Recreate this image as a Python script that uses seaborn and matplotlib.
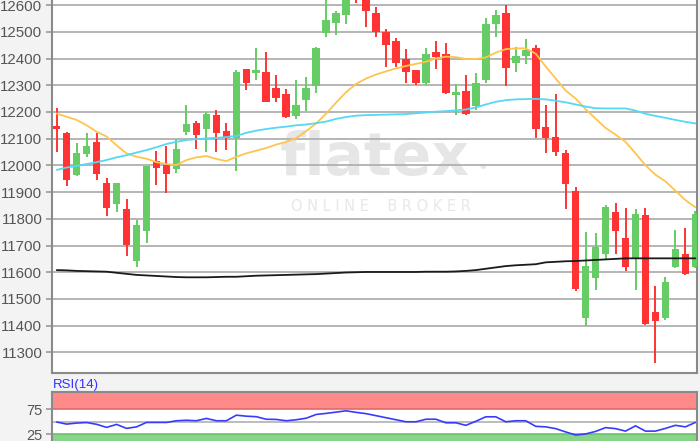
import numpy as np
import pandas as pd
import seaborn as sns
import matplotlib.pyplot as plt

# daily candles
opens = [12148, 12120, 11964, 12042, 12086, 11935, 11855, 11838, 11642, 11753,
         12016, 12001, 11986, 12126, 12159, 12136, 12188, 12128, 12103, 12360,
         12347, 12348, 12288, 12269, 12185, 12244, 12298, 12494, 12534, 12563,
         12660, 12640, 12569, 12498, 12465, 12400, 12357, 12309, 12425, 12417,
         12263, 12279, 12222, 12319, 12529, 12571, 12382, 12409, 12440, 12145,
         12107, 12047, 11905, 11427, 11577, 11670, 11824, 11727, 11652, 11814,
         11450, 11427, 11621, 11670, 11621]
highs = [12213, 12126, 12082, 12123, 12123, 11954, 11935, 11873, 11795, 11997,
         12053, 12073, 12097, 12226, 12166, 12198, 12209, 12157, 12357, 12362,
         12438, 12425, 12338, 12284, 12319, 12332, 12444, 12640, 12578, 12650,
         12680, 12660, 12594, 12509, 12475, 12434, 12357, 12438, 12465, 12457,
         12304, 12338, 12347, 12550, 12581, 12600, 12444, 12473, 12450, 12226,
         12269, 12057, 11920, 11752, 11745, 11851, 11858, 11839, 11836, 11839,
         11548, 11581, 11758, 11764, 11830]
lows = [12051, 11922, 11960, 12030, 11945, 11810, 11826, 11660, 11621, 11708,
        11926, 11897, 11970, 12113, 12063, 12051, 12051, 12057, 11980, 12282,
        12319, 12238, 12238, 12176, 12172, 12204, 12272, 12481, 12488, 12529,
        12608, 12519, 12481, 12369, 12369, 12307, 12300, 12300, 12359, 12267,
        12188, 12188, 12207, 12307, 12479, 12297, 12350, 12379, 12101, 12045,
        12035, 11835, 11529, 11398, 11533, 11645, 11670, 11606, 11533, 11402,
        11261, 11421, 11617, 11588, 11614]
closes = [12136, 11945, 12047, 12072, 11966, 11839, 11935, 11702, 11775, 11997,
          11991, 11967, 12061, 12153, 12113, 12192, 12122, 12103, 12348, 12307,
          12357, 12238, 12253, 12182, 12226, 12288, 12440, 12546, 12571, 12625,
          12625, 12577, 12498, 12450, 12384, 12350, 12310, 12417, 12407, 12272,
          12273, 12194, 12307, 12528, 12563, 12363, 12409, 12432, 12138, 12101,
          12049, 11929, 11537, 11624, 11693, 11843, 11754, 11621, 11818, 11408,
          11418, 11564, 11687, 11593, 11818]

# moving averages
ma_short = [12194, 12182, 12170, 12150, 12126, 12108, 12075, 12045, 12032, 12025,
            12012, 12005, 12001, 12020, 12030, 12035, 12024, 12016, 12032, 12045,
            12055, 12065, 12078, 12088, 12102, 12128, 12157, 12194, 12235, 12274,
            12305, 12325, 12340, 12352, 12363, 12372, 12380, 12388, 12400, 12407,
            12405, 12398, 12398, 12404, 12422, 12435, 12438, 12438, 12418, 12370,
            12325, 12280, 12250, 12210, 12175, 12140, 12115, 12088, 12045, 12000,
            11965, 11940, 11905, 11870, 11843]
ma_mid = [11983, 11992, 11998, 12005, 12012, 12020, 12030, 12038, 12048, 12057,
          12068, 12080, 12088, 12095, 12098, 12101, 12103, 12106, 12110, 12122,
          12130, 12136, 12141, 12145, 12150, 12153, 12158, 12164, 12174, 12181,
          12186, 12188, 12189, 12190, 12191, 12192, 12195, 12198, 12201, 12203,
          12206, 12209, 12217, 12228, 12238, 12244, 12247, 12248, 12249, 12247,
          12242, 12236, 12228, 12220, 12214, 12213, 12213, 12213, 12205, 12193,
          12185, 12178, 12170, 12163, 12157]
ma_long = [11608, 11607, 11605, 11604, 11603, 11602, 11598, 11594, 11590, 11588,
           11586, 11584, 11582, 11581, 11581, 11581, 11582, 11583, 11583, 11585,
           11587, 11588, 11589, 11590, 11591, 11592, 11593, 11595, 11597, 11599,
           11600, 11601, 11601, 11601, 11601, 11601, 11601, 11602, 11602, 11602,
           11603, 11605, 11608, 11613, 11618, 11623, 11626, 11628, 11630, 11637,
           11639, 11641, 11642, 11644, 11646, 11648, 11650, 11652, 11652, 11652,
           11652, 11652, 11652, 11652, 11652]

rsi = [49.5, 45.4, 47.5, 48.5, 45, 39, 44.8, 37, 40, 48.7,
       48.7, 48.7, 52, 53, 52, 56.6, 52, 52, 63, 61,
       60, 55, 54.6, 52, 54, 57, 64.4, 66.5, 69, 71.6,
       68.5, 66, 62, 58, 54, 50, 50, 55, 55, 48,
       48, 43, 51, 59.8, 59.8, 50, 52, 52, 41, 40,
       36.5, 30, 24, 26, 31, 38.5, 36.5, 31.6, 42, 31.6,
       31.6, 37, 43, 40, 48.7]

price_ticks = list(range(11300, 12700, 100))
rsi_ticks = [25, 75]

df = pd.DataFrame({'day': np.arange(len(opens)), 'open': opens, 'high': highs,
                   'low': lows, 'close': closes, 'ma20': ma_short,
                   'ma50': ma_mid, 'ma200': ma_long, 'rsi': rsi})
df['up'] = df['close'] >= df['open']

sns.set_theme(style='white')
plt.rcParams['font.family'] = ['Liberation Sans', 'DejaVu Sans']

fig = plt.figure(figsize=(7, 4.41), dpi=100, facecolor='#f3f3f3')
ax = fig.add_axes([0.0743, 0.1531, 0.9214, 0.8469])
ax.set_facecolor('white')

red, green = '#ff3333', '#66cc66'
colors = np.where(df['up'], green, red)

# watermark
ax.text(0.5, 0.575, 'flatex', transform=ax.transAxes, ha='center', va='center',
        fontsize=42, fontweight='bold', color='#e6e6e6', zorder=0,
        family='DejaVu Sans')
ax.text(0.668, 0.55, '•', transform=ax.transAxes, ha='center', va='center',
        fontsize=14, color='#e6e6e6', zorder=0)
ax.text(0.51, 0.448, 'O N L I N E    B R O K E R', transform=ax.transAxes,
        ha='center', va='center', fontsize=10.5, color='#e8e8e8', zorder=0,
        family='DejaVu Sans')

# candles
ax.vlines(df['day'], df['low'], df['high'], colors=colors, lw=1.4, zorder=3)
ax.bar(df['day'], (df['close'] - df['open']).abs(),
       bottom=df[['open', 'close']].min(axis=1), width=0.76, color=colors,
       zorder=4, linewidth=0)

sns.lineplot(data=df, x='day', y='ma20', ax=ax, color='#ffc44d', lw=1.3, zorder=5)
sns.lineplot(data=df, x='day', y='ma50', ax=ax, color='#55d8f2', lw=1.3, zorder=5)
sns.lineplot(data=df, x='day', y='ma200', ax=ax, color='#1a1a1a', lw=1.3, zorder=5)

ax.set_xlim(-0.47, 64.16)
ax.set_ylim(11221, 12619)
ax.set_yticks(price_ticks)
ax.set_xticks([])
ax.yaxis.grid(True, color='#b0b0b0', lw=1.3, zorder=1)
ax.set_axisbelow(True)
ax.tick_params(axis='y', length=4, width=1.2, color='#999999', labelsize=10.8,
               labelcolor='#555555', left=True, pad=3)
ax.set_xlabel('')
ax.set_ylabel('')
ax.spines['top'].set_visible(False)
for s in ['left', 'bottom', 'right']:
    ax.spines[s].set_color('#8a8a8a')
    ax.spines[s].set_linewidth(1.5)

# RSI panel
ax2 = fig.add_axes([0.0743, -0.014, 0.9214, 0.1244])
ax2.set_facecolor('white')
ax2.axhspan(75, 110, color='#ff8a8a', lw=0, zorder=1)
ax2.axhline(75, color='#e06a6a', lw=1.2, zorder=2)
ax2.axhspan(-10, 25, color='#88d488', lw=0, zorder=1)
ax2.axhline(25, color='#6cc06c', lw=1.2, zorder=2)
ax2.axhline(50, color='#b0b0b0', lw=1.2, zorder=2)
sns.lineplot(data=df, x='day', y='rsi', ax=ax2, color='#3a3aff', lw=1.2, zorder=5)
ax2.set_xlim(-0.47, 64.16)
ax2.set_ylim(0, 108)
ax2.set_yticks(rsi_ticks)
ax2.set_xticks([])
ax2.set_xlabel('')
ax2.set_ylabel('')
ax2.tick_params(axis='y', length=4, width=1.2, color='#999999', labelsize=10.5,
                labelcolor='#555555', left=True, pad=3)
for s in ['left', 'top', 'right', 'bottom']:
    ax2.spines[s].set_color('#8a8a8a')
    ax2.spines[s].set_linewidth(1.5)

fig.text(53 / 700, 1 - 385 / 441, 'RSI(14)', color='#3333ff', fontsize=9.5,
         va='center', ha='left')

fig.savefig('out.png', dpi=100, facecolor=fig.get_facecolor())
